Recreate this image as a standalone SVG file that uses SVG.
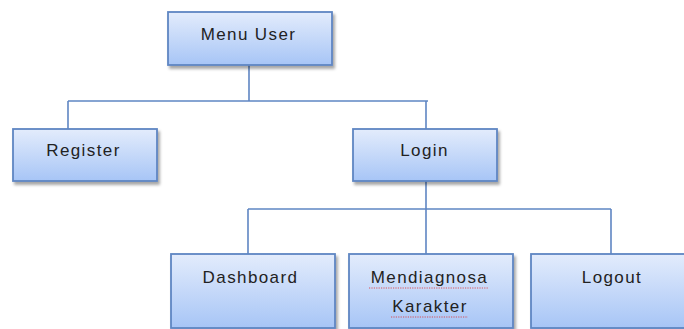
<svg xmlns="http://www.w3.org/2000/svg" width="684" height="329" viewBox="0 0 684 329">
<defs>
<linearGradient id="g" x1="0" y1="0" x2="0" y2="1">
<stop offset="0" stop-color="#e3ecfc"/>
<stop offset="1" stop-color="#a7c5f6"/>
</linearGradient>
<filter id="sh" x="-10%" y="-10%" width="130%" height="140%">
<feDropShadow dx="2" dy="3" stdDeviation="1.5" flood-color="#000" flood-opacity="0.35"/>
</filter>
<style>
.box{fill:url(#g);stroke:#5f86c3;stroke-width:1.8;filter:url(#sh)}
.t{font-family:"Liberation Sans",Arial,sans-serif;font-size:17px;letter-spacing:1.4px;fill:#222;text-anchor:middle}
.c{fill:none;stroke:#5f86c3;stroke-width:1.6}
.sq{fill:none;stroke:#e03030;stroke-width:0.8;stroke-dasharray:1.2 1.2}
</style>
</defs>
<g id="connectors">
<path class="c" d="M249 65V101M68 101H428M68 101V129M426 101V129"/>
<path class="c" d="M426 181V254M248 209H611M248 209V254M611 209V254"/>
</g>
<g id="menu-user">
<rect class="box" x="168" y="12" width="164" height="53"/>
<text class="t" x="248.5" y="40">Menu User</text>
</g>
<g id="register">
<rect class="box" x="13" y="129" width="144" height="52"/>
<text class="t" x="83.5" y="156">Register</text>
</g>
<g id="login">
<rect class="box" x="353" y="129" width="144" height="52"/>
<text class="t" x="424.5" y="156">Login</text>
</g>
<g id="dashboard">
<rect class="box" x="171" y="254" width="164" height="74"/>
<text class="t" x="250.5" y="283">Dashboard</text>
</g>
<g id="mendiagnosa">
<rect class="box" x="349" y="254" width="164" height="74"/>
<text class="t" x="429.5" y="283">Mendiagnosa</text>
<text class="t" x="430" y="312">Karakter</text>
<path class="sq" d="M369 288H488M391 317H468"/>
</g>
<g id="logout">
<rect class="box" x="531" y="254" width="164" height="74"/>
<text class="t" x="612" y="283">Logout</text>
</g>
</svg>
